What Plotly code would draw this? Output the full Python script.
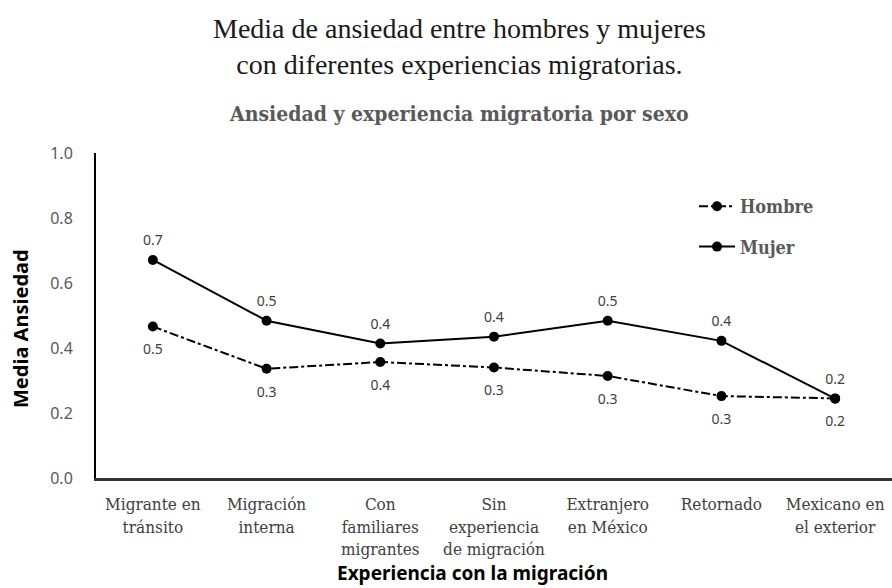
import plotly.graph_objects as go

# Categorías de experiencia migratoria (eje X)
categorias = [
    "Migrante en<br>tránsito",
    "Migración<br>interna",
    "Con<br>familiares<br>migrantes",
    "Sin<br>experiencia<br>de migración",
    "Extranjero<br>en México",
    "Retornado",
    "Mexicano en<br>el exterior",
]

# Media de ansiedad por sexo
hombre = [0.466, 0.336, 0.357, 0.340, 0.314, 0.252, 0.245]
mujer = [0.671, 0.484, 0.414, 0.435, 0.484, 0.422, 0.244]

W, H = 892, 588
ML, MR, MT, MB = 96, 0, 153, 110
PW, PH = W - ML - MR, H - MT - MB

SERIF_C = "DejaVu Serif Condensed, DejaVu Serif, serif"


def px_x(x):
    return (x - ML) / PW


def px_y(y):
    return (H - MB - y) / PH


label_font = dict(family="Noto Sans", size=14, color="#404040")
xs = list(range(len(categorias)))

fig = go.Figure()
series = [
    ("Hombre", hombre, "dashdot", "bottom center", "h", 26),
    ("Mujer", mujer, "solid", "top center", "m", 16),
]
for nombre, valores, estilo, pos, grupo, sep in series:
    # línea y marcadores
    fig.add_trace(go.Scatter(
        x=xs, y=valores, name=f"<b>{nombre}</b>", mode="lines+markers",
        line=dict(color="black", width=2, dash=estilo),
        marker=dict(color="black", size=10),
        legendgroup=grupo, cliponaxis=False,
    ))
    # etiquetas de valor, separadas del marcador
    fig.add_trace(go.Scatter(
        x=xs, y=valores, mode="markers+text", showlegend=False,
        marker=dict(size=sep, opacity=0),
        texttemplate="%{y:.1f}", textposition=pos, textfont=label_font,
        legendgroup=grupo, cliponaxis=False, hoverinfo="skip",
    ))

fig.update_layout(
    width=W, height=H,
    margin=dict(l=ML, r=MR, t=MT, b=MB),
    paper_bgcolor="white", plot_bgcolor="white",
    showlegend=True,
    legend=dict(
        x=px_x(694), y=px_y(188), xanchor="left", yanchor="top",
        font=dict(family=SERIF_C, size=18, color="#595959", weight="bold"),
        traceorder="grouped", tracegroupgap=14, itemwidth=36,
        bgcolor="rgba(0,0,0,0)",
    ),
    xaxis=dict(
        range=[-0.5, 6.5],
        tickvals=xs, ticktext=categorias,
        showgrid=False, zeroline=False,
        showline=True, linecolor="#333333", linewidth=3,
        ticks="", ticklabelstandoff=9,
        tickfont=dict(family=SERIF_C, size=17, color="#404040"),
    ),
    yaxis=dict(
        range=[0, 1.0], dtick=0.2, tickformat=".1f",
        showgrid=False, zeroline=False,
        showline=True, linecolor="black", linewidth=2,
        ticks="", ticklabelstandoff=18,
        tickfont=dict(family="Noto Sans", size=16, color="#595959"),
    ),
    annotations=[
        dict(text="Media de ansiedad entre hombres y mujeres<br>con diferentes experiencias migratorias.",
             x=px_x(459), y=px_y(46), xref="paper", yref="paper",
             xanchor="center", yanchor="middle", showarrow=False,
             font=dict(family="Liberation Serif", size=28, color="#1a1a1a")),
        dict(text="<b>Ansiedad y experiencia migratoria por sexo</b>",
             x=px_x(459), y=px_y(113), xref="paper", yref="paper",
             xanchor="center", yanchor="middle", showarrow=False,
             font=dict(family=SERIF_C, size=21, color="#595959")),
        dict(text="<b>Media Ansiedad</b>", textangle=-90,
             x=px_x(20), y=px_y(329), xref="paper", yref="paper",
             xanchor="center", yanchor="middle", showarrow=False,
             font=dict(family="Noto Sans", size=20, color="black")),
        dict(text="<b>Experiencia con la migración</b>",
             x=px_x(472), y=px_y(573), xref="paper", yref="paper",
             xanchor="center", yanchor="middle", showarrow=False,
             font=dict(family="Noto Sans", size=19, color="black")),
    ],
)

fig.write_html("out.html")
